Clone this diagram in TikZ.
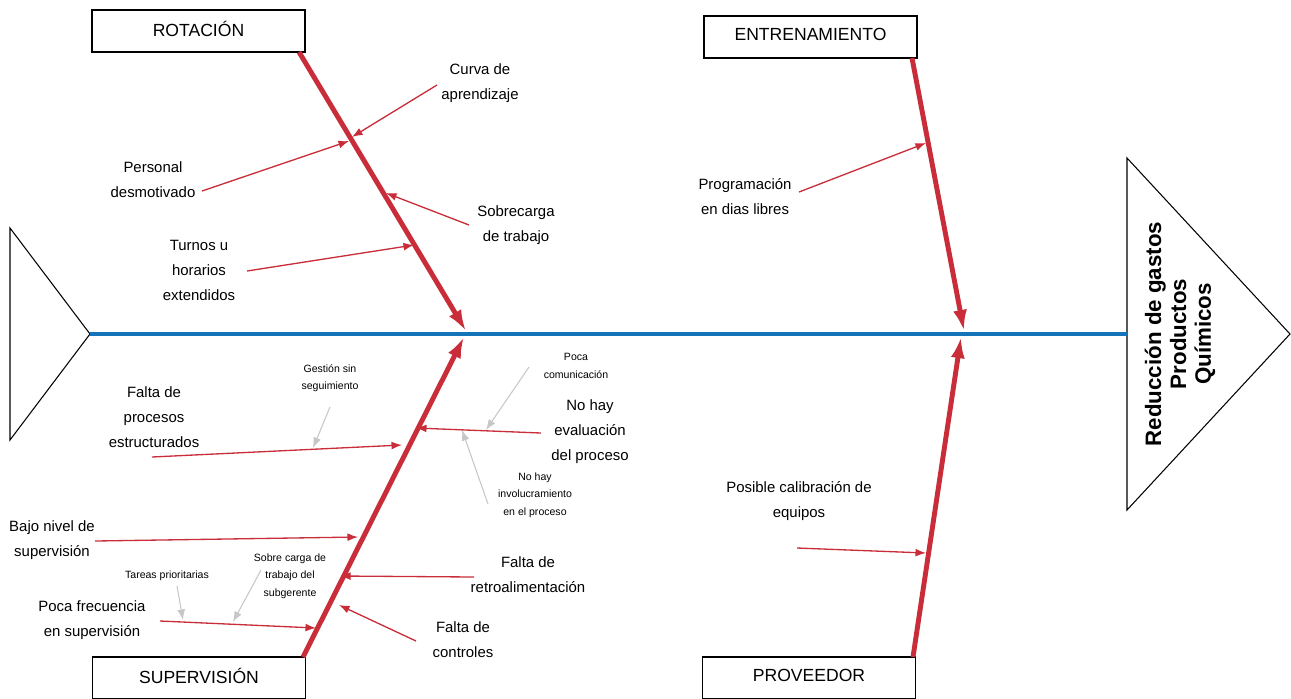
\documentclass[tikz,border=0pt]{standalone}
\usepackage{fontspec}
\setmainfont{Liberation Sans}
\usetikzlibrary{arrows.meta}

\tikzset{
    catbox/.style={draw, line width=0.75pt, minimum width=4.26cm, minimum height=0.84cm,
        inner sep=0pt, text depth=2.5pt, font=\fontsize{10}{12}\selectfont},
    spine/.style={spinecolor, line width=2.8pt},
    bone/.style={bonecolor, line width=2.8pt, -{Latex[length=12pt, width=8pt]}},
    cause/.style={bonecolor, line width=0.75pt, -{Latex[length=6pt, width=4.5pt]}},
    hint/.style={black!22, line width=0.6pt, -{Latex[length=6pt, width=4.5pt]}},
    causetext/.style={align=center, inner sep=0pt, font=\fontsize{8.5}{14.2}\selectfont},
    hinttext/.style={align=center, inner sep=0pt, font=\fontsize{6}{10}\selectfont},
}

\begin{document}
\begin{tikzpicture}[x=0.02cm, y=-0.02cm]
        \definecolor{bonecolor}{RGB}{201,45,57}
        \definecolor{spinecolor}{RGB}{20,116,186}
        \useasboundingbox (0,0) rectangle (1291,698);

        % --- Spine, tail and head ---
        \coordinate (tail) at (90,334);
        \coordinate (head) at (1127,334);
        \draw[line width=0.6pt] (10,228) -- (tail) -- (10,440) -- cycle;
        \draw[line width=0.6pt] (head |- 0,158) -- (1290,334) -- (head |- 0,510) -- cycle;
        \draw[spine] (tail) -- (head);
        \node[rotate=90, align=center, font=\bfseries\fontsize{12.7}{14.2}\selectfont] (goal) at (1180,334)
            {Reducción de gastos\\Productos\\Químicos};

        % --- Categories ---
        \node[catbox] (rot) at (198.5,31) {ROTACIÓN};
        \node[catbox] (ent) at (810.5,37) {ENTRENAMIENTO};
        \node[catbox] (sup) at (199,678) {SUPERVISIÓN};
        \node[catbox] (prov) at (809,678) {PROVEEDOR};

        % Bones
        \coordinate (rotS) at (299,52);   \coordinate (rotT) at (466,331);
        \coordinate (entS) at (912,58);   \coordinate (entT) at (964,331);
        \coordinate (supS) at (303,657);  \coordinate (supT) at (464,337);
        \coordinate (provS) at (913,657); \coordinate (provT) at (961,337);
        \draw[bone] (rotS) -- (rotT);
        \draw[bone] (entS) -- (entT);
        \draw[bone] (supS) -- (supT);
        \draw[bone] (provS) -- (provT);

        % --- Rotación ---
        \node[causetext] (curva) at (480,83) {Curva de\\aprendizaje};
        \node[causetext] (personal) at (153,180) {Personal\\desmotivado};
        \node[causetext] (sobrecarga) at (516,225) {Sobrecarga\\de trabajo};
        \node[causetext] (turnos) at (199,270) {Turnos u\\horarios\\extendidos};
        \coordinate (curvaS) at (437,85);      \coordinate (curvaE) at (352,137);
        \coordinate (personalS) at (202,191);  \coordinate (personalE) at (349,141);
        \coordinate (sobreS) at (469,225);     \coordinate (sobreE) at (386,193);
        \coordinate (turnosS) at (247,271);    \coordinate (turnosE) at (414,245);
        \draw[cause] (curvaS) -- (curvaE);
        \draw[cause] (personalS) -- (personalE);
        \draw[cause] (sobreS) -- (sobreE);
        \draw[cause] (turnosS) -- (turnosE);

        % --- Entrenamiento ---
        \node[causetext] (programa) at (745,197) {Programación\\en dias libres};
        \coordinate (programaS) at (799,192);  \coordinate (programaE) at (926,143);
        \draw[cause] (programaS) -- (programaE);

        % --- Proveedor ---
        \node[causetext] (calibra) at (799,501) {Posible calibración de\\equipos};
        \coordinate (calibraS) at (797,548);   \coordinate (calibraE) at (926,553);
        \draw[cause] (calibraS) -- (calibraE);

        % --- Supervisión ---
        \node[causetext] (procesos) at (154,417) {Falta de\\procesos\\estructurados};
        \node[causetext] (evalua) at (590,432) {No hay\\evaluación\\del proceso};
        \node[causetext] (bajo) at (52,540) {Bajo nivel de\\supervisión};
        \node[causetext] (retro) at (528,575) {Falta de\\retroalimentación};
        \node[causetext] (controles) at (463,640) {Falta de\\controles};
        \node[causetext] (frecuencia) at (92,620) {Poca frecuencia\\en supervisión};
        \coordinate (procesosS) at (152,457);  \coordinate (procesosE) at (402,445);
        \coordinate (evaluaS) at (541,433);    \coordinate (evaluaE) at (416,428);
        \coordinate (bajoS) at (95,541);       \coordinate (bajoE) at (358,537);
        \coordinate (retroS) at (474,577);     \coordinate (retroE) at (340,576);
        \coordinate (controlesS) at (416,641); \coordinate (controlesE) at (339,605);
        \coordinate (frecS) at (160,621);      \coordinate (frecE) at (316,628);
        \draw[cause] (procesosS) -- (procesosE);
        \draw[cause] (evaluaS) -- (evaluaE);
        \draw[cause] (bajoS) -- (bajoE);
        \draw[cause] (retroS) -- (retroE);
        \draw[cause] (controlesS) -- (controlesE);
        \draw[cause] (frecS) -- (frecE);

        % sub-causes (gray)
        \node[hinttext] (gestion) at (330,378) {Gestión sin\\seguimiento};
        \node[hinttext] (comunica) at (576,366) {Poca\\comunicación};
        \node[hinttext] (involucra) at (535,495) {No hay\\involucramiento\\en el proceso};
        \node[hinttext] (tareas) at (167,576) {Tareas prioritarias};
        \node[hinttext] (subger) at (290,576) {Sobre carga de\\trabajo del\\subgerente};
        \coordinate (gestionS) at (330,407);   \coordinate (gestionE) at (313,448);
        \coordinate (comunicaS) at (529,367);  \coordinate (comunicaE) at (486,430);
        \coordinate (involucraS) at (488,504); \coordinate (involucraE) at (462,430);
        \coordinate (tareasS) at (177,586);    \coordinate (tareasE) at (183,620);
        \coordinate (subgerS) at (261,570);    \coordinate (subgerE) at (233,622);
        \draw[hint] (gestionS) -- (gestionE);
        \draw[hint] (comunicaS) -- (comunicaE);
        \draw[hint] (involucraS) -- (involucraE);
        \draw[hint] (tareasS) -- (tareasE);
        \draw[hint] (subgerS) -- (subgerE);
    \end{tikzpicture}
\end{document}
